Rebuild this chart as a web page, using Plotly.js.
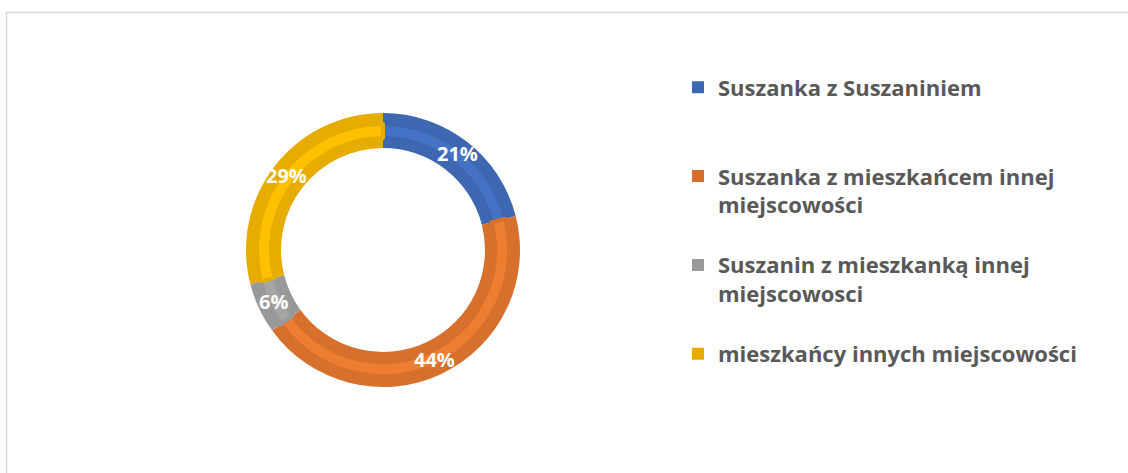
<!DOCTYPE html>
<html>
<head>
<meta charset="utf-8">
<script src="https://cdn.plot.ly/plotly-3.0.1.min.js"></script>
<style>
  html, body { margin: 0; padding: 0; background: #ffffff; }
  #chart { width: 1128px; height: 473px; }
</style>
</head>
<body>
<div id="chart"></div>
<script>
// ---- data ----
const categories = [
  "Suszanka z Suszaniniem",
  "Suszanka z mieszkańcem innej miejscowości",
  "Suszanin z mieszkanką innej miejscowości",
  "mieszkańcy innych miejscowości"
];
const legendLabels = [
  "Suszanka z Suszaniniem<br> <br> ",
  "Suszanka z mieszkańcem innej<br>miejscowości<br> ",
  "Suszanin z mieszkanką innej<br>miejscowosci<br> ",
  "mieszkańcy innych miejscowości<br> <br> "
];
const values = [21, 44, 6, 29];

// ---- styles ----
const darkColors  = ["#3d67b1", "#d6702c", "#999999", "#e6ac00"];
const lightColors = ["#4472c4", "#ed7d31", "#a5a5a5", "#ffc000"];

const W = 1128, H = 473;
const cx = 383, cy = 250;
const rOuter = 137, rInner = 102;
function dom(r) {
  return {
    x: [(cx - r) / W, (cx + r) / W],
    y: [1 - (cy + r) / H, 1 - (cy - r) / H]
  };
}

const common = {
  type: "pie",
  values: values,
  labels: legendLabels,
  sort: false,
  direction: "clockwise",
  rotation: 0,
  hoverinfo: "skip",
  textinfo: "none"
};

const outer = Object.assign({}, common, {
  domain: dom(rOuter),
  hole: rInner / rOuter,
  marker: { colors: darkColors, line: { width: 0 } },
  showlegend: true
});

const band = Object.assign({}, common, {
  domain: dom(126),
  hole: 112 / 126,
  marker: { colors: lightColors, line: { color: darkColors, width: 4 } },
  showlegend: false
});

// percentage labels placed at the middle of each slice (derived from values)
const total = values.reduce((a, b) => a + b, 0);
const rMid = (rOuter + rInner) / 2 + 2;
let cum = 0;
const annotations = values.map((v) => {
  const frac = (cum + v / 2) / total;
  cum += v;
  const th = 2 * Math.PI * frac;
  const px = cx + rMid * Math.sin(th);
  const py = cy - rMid * Math.cos(th);
  return {
    xref: "paper", yref: "paper",
    x: px / W, y: 1 - py / H,
    xanchor: "center", yanchor: "middle",
    text: Math.round(100 * v / total) + "%",
    showarrow: false,
    font: { family: "Open Sans, sans-serif", size: 20, color: "#ffffff", weight: "bold" }
  };
});

const layout = {
  width: W,
  height: H,
  margin: { l: 0, r: 0, t: 0, b: 0 },
  paper_bgcolor: "#ffffff",
  plot_bgcolor: "#ffffff",
  showlegend: true,
  legend: {
    x: 678 / W,
    xanchor: "left",
    y: 1 - 66.5 / H,
    yanchor: "top",
    valign: "top",
    traceorder: "normal",
    font: { family: "Open Sans, sans-serif", size: 22, color: "#595959", weight: "bold" },
    bgcolor: "rgba(0,0,0,0)"
  },
  annotations: annotations,
  shapes: [{
    type: "rect",
    xref: "paper", yref: "paper",
    x0: 6.5 / W, x1: 1.02,
    y0: -0.02, y1: 1 - 12.5 / H,
    line: { color: "#d9d9d9", width: 1.5 },
    fillcolor: "rgba(0,0,0,0)",
    layer: "below"
  }]
};

Plotly.newPlot("chart", [outer, band], layout, { staticPlot: true, displayModeBar: false });
</script>
</body>
</html>
